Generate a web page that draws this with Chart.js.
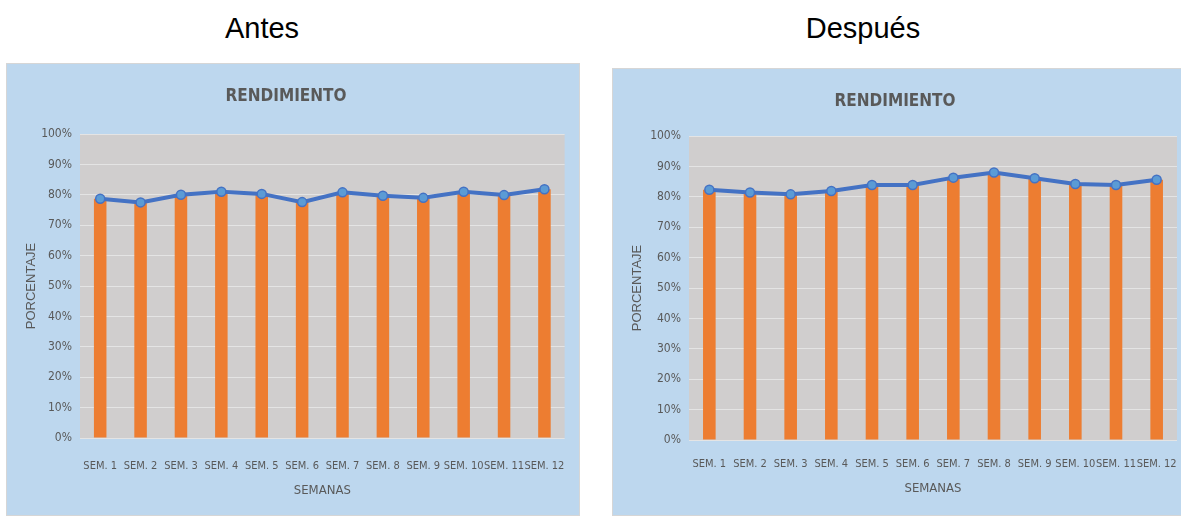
<!DOCTYPE html>
<html>
<head>
<meta charset="utf-8">
<script src="https://cdn.jsdelivr.net/npm/chart.js@4/dist/chart.umd.min.js"></script>
<style>
  html, body { margin: 0; padding: 0; background: #fff; overflow: hidden; }
  body { width: 1181px; height: 516px; position: relative; }
  .cap { position: absolute; top: 14px; width: 300px; text-align: center;
         font-family: 'Liberation Sans', Arial, sans-serif; font-size: 29px; line-height: 29px; color: #000; }
  .panel { position: absolute; background: #bdd7ee; border: 1px solid #d6d6d6; }
  .panel canvas { display: block; }
</style>
</head>
<body>
<div class="cap" style="left:112px">Antes</div>
<div class="cap" style="left:713px">Después</div>

<div class="panel" style="left:6px; top:63px; width:572px; height:451px;">
  <canvas id="antes" width="572" height="451"></canvas>
</div>
<div class="panel" style="left:612px; top:68px; width:580px; height:446px;">
  <canvas id="despues" width="580" height="446"></canvas>
</div>

<script>
// semanas y rendimiento (%)
var semanas = ['SEM. 1', 'SEM. 2', 'SEM. 3', 'SEM. 4', 'SEM. 5', 'SEM. 6',
               'SEM. 7', 'SEM. 8', 'SEM. 9', 'SEM. 10', 'SEM. 11', 'SEM. 12'];
var antes = [78.7, 77.5, 80.0, 81.0, 80.3, 77.6, 80.8, 79.7, 79.0, 81.0, 79.9, 81.8];
var despues = [82.3, 81.4, 80.8, 81.9, 83.9, 83.9, 86.3, 88.0, 86.1, 84.2, 83.9, 85.6];

var narrow = "'DejaVu Sans Condensed', 'Liberation Sans Narrow', sans-serif";
var gris = '#595959';

// gray plot area behind the bars
var plotBg = {
    id: 'plotBg',
    beforeDraw: function(chart) {
        var a = chart.chartArea, ctx = chart.ctx;
        ctx.save();
        ctx.fillStyle = '#d0cece';
        ctx.fillRect(a.left, a.top, a.right - a.left, a.bottom - a.top);
        ctx.restore();
    }
};

function makeChart(id, values, o) {
    var ctx = document.getElementById(id).getContext('2d');
    return new Chart(ctx, {
        type: 'bar',
        data: {
            labels: semanas,
            datasets: [{
                type: 'line',
                data: values,
                order: 0,
                borderColor: '#4472c4',
                borderWidth: 4,
                tension: 0,
                pointRadius: 4.5,
                pointBackgroundColor: '#5b9bd5',
                pointBorderColor: '#4472c4',
                pointBorderWidth: 1.5
            }, {
                type: 'bar',
                data: values,
                order: 1,
                backgroundColor: '#ed7d31',
                barPercentage: 0.31,
                categoryPercentage: 1
            }]
        },
        options: {
            responsive: false,
            animation: false,
            layout: { padding: { left: 0, right: o.padRight, top: 0, bottom: 0 } },
            plugins: {
                legend: { display: false },
                tooltip: { enabled: false },
                title: {
                    display: true,
                    text: 'RENDIMIENTO',
                    color: gris,
                    font: { family: narrow, size: 17, weight: 'bold', lineHeight: 1.2 },
                    padding: { top: o.titleTop, bottom: o.titleBottom }
                }
            },
            scales: {
                x: {
                    grid: { display: false },
                    border: { display: false },
                    ticks: { color: gris, font: { family: narrow, size: 11 }, padding: o.xTickPad,
                             maxRotation: 0, autoSkip: false },
                    title: { display: true, text: 'SEMANAS', color: gris,
                             font: { family: narrow, size: 13, lineHeight: 1.2 },
                             padding: { top: 0, bottom: o.xTitlePad } },
                    afterFit: function(s) { s.height = o.xHeight; }
                },
                y: {
                    min: 0,
                    max: 100,
                    grid: { color: '#e4e4e4', lineWidth: 1, drawTicks: false },
                    border: { display: false },
                    ticks: { stepSize: 10, color: gris, padding: o.yTickPad,
                             font: { family: narrow, size: 12 },
                             callback: function(v) { return v + '%'; } },
                    title: { display: true, text: 'PORCENTAJE', color: gris,
                             font: { family: "'Liberation Sans', Arial, sans-serif", size: 13, lineHeight: 1.2 },
                             padding: { top: 17, bottom: 0 } },
                    afterFit: function(s) { s.width = o.yWidth; }
                }
            }
        },
        plugins: [plotBg]
    });
}

makeChart('antes', antes, {
    padRight: 14, titleTop: 22, titleBottom: 27.6, yWidth: 73, yTickPad: 8,
    xHeight: 77, xTickPad: 14, xTitlePad: 17
});
makeChart('despues', despues, {
    padRight: 16, titleTop: 22, titleBottom: 24.6, yWidth: 76, yTickPad: 8,
    xHeight: 75, xTickPad: 10, xTitlePad: 19
});
</script>
</body>
</html>
